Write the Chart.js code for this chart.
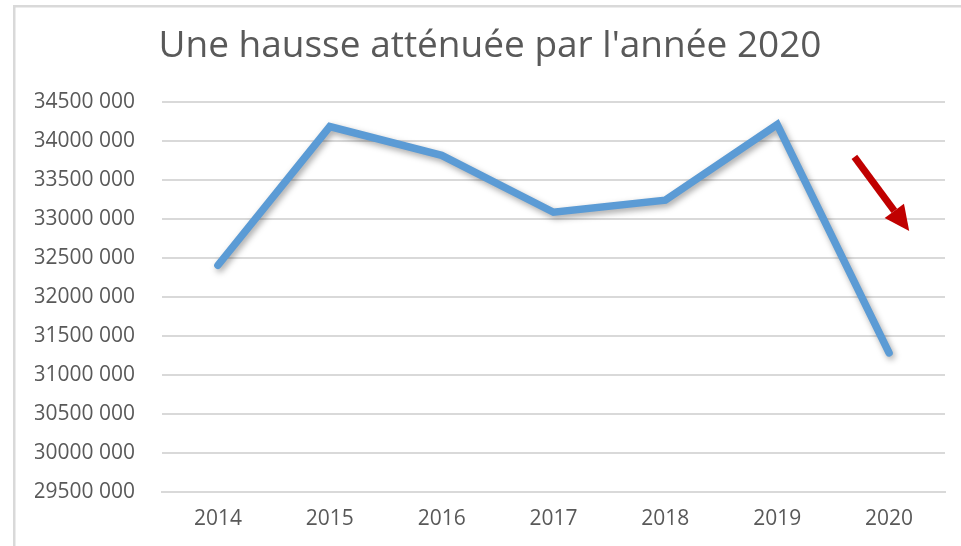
<!DOCTYPE html>
<html>
<head>
<meta charset="utf-8">
<script src="https://cdn.jsdelivr.net/npm/chart.js@4"></script>
<style>
  html, body { margin: 0; padding: 0; background: #fff; }
  #wrap { width: 961px; height: 546px; }
</style>
</head>
<body>
<div id="wrap"><canvas id="chart" width="961" height="546"></canvas></div>
<script>
// data
var years = ["2014", "2015", "2016", "2017", "2018", "2019", "2020"];
var values = [32410000, 34190000, 33820000, 33090000, 33245000, 34215000, 31285000];
var yMin = 29500000, yMax = 34500000, yStep = 500000;
var titleText = "Une hausse atténuée par l'année 2020";
// red arrow, in axis units (category index, value)
var arrowFrom = [5.69, 33800000];
var arrowTo = [6.18, 32850000];

var grey = "#595959";

function fmt(v) {
  var th = Math.floor(v / 1000);
  var rest = String(v % 1000).padStart(3, "0");
  return th + " " + rest;
}

// light frame round the chart
var frame = {
  id: "frame",
  beforeDraw: function(chart) {
    var ctx = chart.ctx;
    ctx.save();
    ctx.fillStyle = "#d9d9d9";
    ctx.fillRect(13, 5, chart.width, 2.5);
    ctx.fillRect(13, 5, 2.5, chart.height);
    ctx.restore();
  }
};

// soft shadow under the line
var shadow = {
  id: "shadow",
  beforeDatasetDraw: function(chart) {
    var ctx = chart.ctx;
    ctx.save();
    ctx.shadowColor = "rgba(0,0,0,0.35)";
    ctx.shadowBlur = 6;
    ctx.shadowOffsetX = 2;
    ctx.shadowOffsetY = 3;
  },
  afterDatasetDraw: function(chart) {
    chart.ctx.restore();
  }
};

var arrow = {
  id: "arrow",
  afterDatasetsDraw: function(chart) {
    var x = chart.scales.x, y = chart.scales.y, ctx = chart.ctx;
    var x1 = x.getPixelForValue(arrowFrom[0]), y1 = y.getPixelForValue(arrowFrom[1]);
    var x2 = x.getPixelForValue(arrowTo[0]), y2 = y.getPixelForValue(arrowTo[1]);
    var a = Math.atan2(y2 - y1, x2 - x1);
    var head = 25, half = 12;
    var bx = x2 - head * Math.cos(a), by = y2 - head * Math.sin(a);
    ctx.save();
    ctx.strokeStyle = "#c00000";
    ctx.fillStyle = "#c00000";
    ctx.lineWidth = 7;
    ctx.beginPath();
    ctx.moveTo(x1, y1);
    ctx.lineTo(bx, by);
    ctx.stroke();
    ctx.beginPath();
    ctx.moveTo(x2, y2);
    ctx.lineTo(bx + half * Math.sin(a), by - half * Math.cos(a));
    ctx.lineTo(bx - half * Math.sin(a), by + half * Math.cos(a));
    ctx.closePath();
    ctx.fill();
    ctx.restore();
  }
};

new Chart(document.getElementById("chart"), {
  type: "line",
  data: {
    labels: years,
    datasets: [{
      data: values,
      borderColor: "#5b9bd5",
      borderWidth: 7.5,
      pointRadius: 0,
      tension: 0,
      borderJoinStyle: "miter",
      borderCapStyle: "round"
    }]
  },
  options: {
    responsive: false,
    animation: false,
    layout: { padding: { top: 6, left: 35, right: 16, bottom: 0 } },
    plugins: {
      legend: { display: false },
      tooltip: { enabled: false },
      title: {
        display: true,
        text: titleText,
        color: grey,
        font: { family: "'Open Sans'", size: 37, weight: "normal" },
        padding: { top: 18, bottom: 34 }
      }
    },
    scales: {
      x: {
        offset: true,
        grid: { display: false, drawTicks: false },
        border: { display: true, color: "#d9d9d9", width: 2 },
        ticks: { color: grey, padding: 14, font: { family: "'Open Sans'", size: 21 } },
        afterFit: function(s) { s.height = 54; }
      },
      y: {
        min: yMin,
        max: yMax,
        grid: { color: "#d9d9d9", lineWidth: 2, drawTicks: false },
        border: { display: false },
        ticks: {
          stepSize: yStep,
          color: grey,
          padding: 27,
          font: { family: "'Open Sans'", size: 21 },
          callback: function(v) { return fmt(v); }
        },
        afterFit: function(s) { s.width = 127; }
      }
    }
  },
  plugins: [frame, shadow, arrow]
});
</script>
</body>
</html>
